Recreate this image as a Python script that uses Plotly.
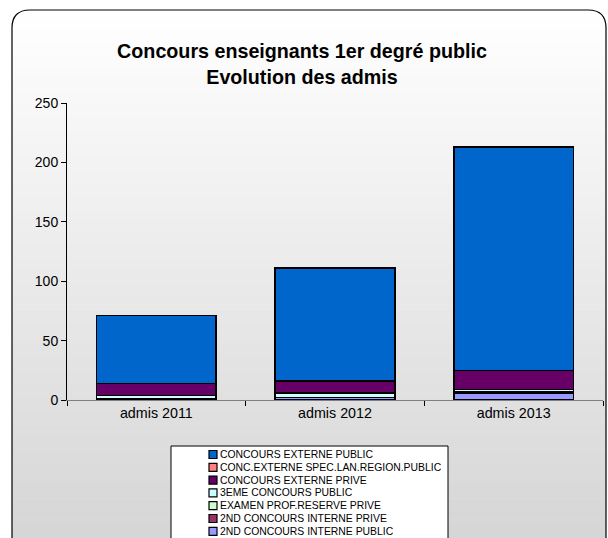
import plotly.graph_objects as go

categories = ["admis 2011", "admis 2012", "admis 2013"]

# series listed from bottom of stack to top
series_names = [
    "2ND CONCOURS INTERNE PUBLIC",
    "2ND CONCOURS INTERNE PRIVE",
    "EXAMEN PROF.RESERVE PRIVE",
    "3EME CONCOURS PUBLIC",
    "CONCOURS EXTERNE PRIVE",
    "CONC.EXTERNE SPEC.LAN.REGION.PUBLIC",
    "CONCOURS EXTERNE PUBLIC",
]
interne_public = [0, 2, 6]
interne_prive = [0, 0, 0]
examen_prive = [1, 0, 1]
troisieme_public = [3, 4, 2]
externe_prive = [10, 10, 16]
spec_lan_public = [0, 0, 0]
externe_public = [57, 95, 188]
series_values = [interne_public, interne_prive, examen_prive, troisieme_public,
                 externe_prive, spec_lan_public, externe_public]
series_colors = ["#9999FF", "#993366", "#CCFFCC", "#CCFFFF", "#660066", "#FF8080", "#0066CC"]

y_ticks = [0, 50, 100, 150, 200, 250]

FW, FH = 608, 538
ML, MR, MT, MB = 67, 5, 103, 138
PW, PH = FW - ML - MR, FH - MT - MB


def px(x):
    return (x - ML) / PW


def py(y):
    return (FH - MB - y) / PH


fig = go.Figure()
for name, vals, col in zip(series_names, series_values, series_colors):
    fig.add_trace(go.Bar(
        x=categories, y=vals, name=name,
        marker=dict(color=col, line=dict(color="#000000", width=1.5)),
        showlegend=False,
    ))

shapes = []
# gradient background inside rounded chart border
x0b, x1b, y0b, y1b = 12, 606, 10, 545
nb = 80
for i in range(nb):
    ya = y0b + (y1b - y0b) * i / nb
    yb = y0b + (y1b - y0b) * (i + 1) / nb
    t = (i + 0.5) / nb
    g = int(round(255 - t * 42))
    shapes.append(dict(type="rect", xref="paper", yref="paper", layer="below",
                       x0=px(x0b), x1=px(x1b), y0=py(ya), y1=py(yb + 0.5),
                       fillcolor=f"rgb({g},{g},{g})", line=dict(width=0)))
# rounded border
r = 18
path = (f"M {px(x0b)},{py(FH + 5)} L {px(x0b)},{py(y0b + r)} "
        f"Q {px(x0b)},{py(y0b)} {px(x0b + r)},{py(y0b)} "
        f"L {px(x1b - r)},{py(y0b)} Q {px(x1b)},{py(y0b)} {px(x1b)},{py(y0b + r)} "
        f"L {px(x1b)},{py(FH + 5)}")
shapes.append(dict(type="path", xref="paper", yref="paper", path=path,
                   line=dict(color="#000000", width=1.2)))

# custom legend (top-to-bottom = reverse stacking order)
lx0, lx1, ly0 = 171, 448, 446
shapes.append(dict(type="rect", xref="paper", yref="paper",
                   x0=px(lx0), x1=px(lx1), y0=py(ly0), y1=py(FH + 10),
                   fillcolor="#FFFFFF", line=dict(color="#000000", width=1)))
annotations = []
step = 12.8
for k, (name, col) in enumerate(zip(series_names[::-1], series_colors[::-1])):
    cy = 454.5 + k * step
    shapes.append(dict(type="rect", xref="paper", yref="paper",
                       x0=px(209), x1=px(217), y0=py(cy + 4), y1=py(cy - 4),
                       fillcolor=col, line=dict(color="#000000", width=1.2)))
    annotations.append(dict(xref="paper", yref="paper", x=px(218), y=py(cy),
                            xanchor="left", yanchor="middle", showarrow=False,
                            text=name, font=dict(family="Arial, Liberation Sans", size=10.4, color="#000000")))

fig.update_layout(
    width=FW, height=FH,
    margin=dict(l=ML, r=MR, t=MT, b=MB, pad=0),
    barmode="stack", bargap=0.33,
    paper_bgcolor="#FFFFFF", plot_bgcolor="rgba(0,0,0,0)",
    title=dict(text="<b>Concours enseignants 1er degré public<br>Evolution des admis</b>",
               xref="container", x=302 / FW, xanchor="center",
               yref="container", y=1 - 58 / FH, yanchor="middle",
               font=dict(family="Arial, Liberation Sans", size=19.7, color="#000000")),
    font=dict(family="Arial, Liberation Sans", color="#000000"),
    xaxis=dict(showline=True, linecolor="#808080", linewidth=1.2,
               ticks="outside", tickson="boundaries", ticklen=5, tickcolor="#000000",
               tickfont=dict(size=14.3), showgrid=False, zeroline=False),
    yaxis=dict(range=[0, 250], tickvals=y_ticks, showline=True, linecolor="#000000",
               linewidth=1, ticks="outside", ticklen=5, tickcolor="#000000",
               tickfont=dict(size=14), showgrid=False, zeroline=False),
    shapes=shapes, annotations=annotations, showlegend=False,
)
fig.write_html("out.html", config={"displayModeBar": False},
               post_script="document.body.style.margin='0';document.body.style.overflow='hidden';")
